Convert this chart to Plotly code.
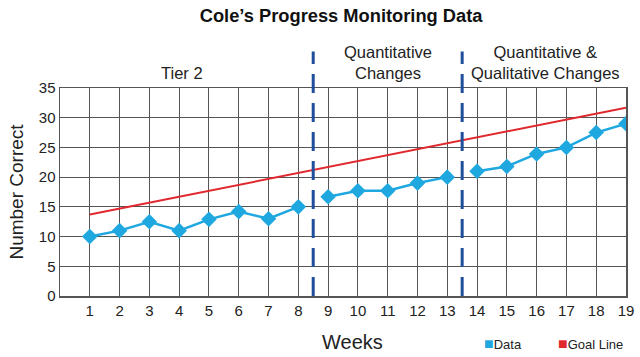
import plotly.graph_objects as go

weeks = list(range(1, 20))
data_values = [10, 11, 12.5, 11, 12.9, 14.2, 13, 15, 16.7, 17.7, 17.7, 19, 20, 21, 21.8, 23.9, 25, 27.5, 29]
goal_weeks = [1, 19]
goal_values = [13.7, 31.7]
phase_breaks = [8.5, 13.5]
phase_labels = ["Tier 2", "Quantitative<br>Changes", "Quantitative &<br>Qualitative Changes"]
phase_label_x = [4.1, 11.0, 16.3]
y_ticks = [0, 5, 10, 15, 20, 25, 30, 35]

BLUE = "#1fa8e0"
RED = "#e0282e"
DASH = "#1f4e9b"
GRID = "#555555"
FONT = "Liberation Sans, Arial, sans-serif"

fig = go.Figure()
fig.add_trace(go.Scatter(x=goal_weeks, y=goal_values, mode="lines",
                         line=dict(color=RED, width=2), showlegend=False))

# data line is broken at each phase change
bounds = [float("-inf")] + phase_breaks + [float("inf")]
for lo, hi in zip(bounds[:-1], bounds[1:]):
    seg = [(w, v) for w, v in zip(weeks, data_values) if lo < w < hi]
    fig.add_trace(go.Scatter(x=[s[0] for s in seg], y=[s[1] for s in seg], mode="lines+markers",
                             line=dict(color=BLUE, width=2.5),
                             marker=dict(symbol="diamond", size=12, color=BLUE),
                             showlegend=False))

for xb in phase_breaks:
    fig.add_shape(type="line", xref="x", yref="paper", x0=xb, x1=xb, y0=0, y1=1.175,
                  line=dict(color=DASH, width=3, dash="19px,10px"))

for lx, lt in zip(phase_label_x, phase_labels):
    fig.add_annotation(x=lx, xref="x", y=1.02, yref="paper", yanchor="bottom",
                       text=lt, showarrow=False, font=dict(size=16.5, color="#222", family=FONT))

fig.update_layout(
    width=640, height=357,
    margin=dict(l=60, r=14, t=88, b=61, autoexpand=False),
    paper_bgcolor="white", plot_bgcolor="white",
    font=dict(family=FONT, color="#222"),
    title=dict(text="<b>Cole’s Progress Monitoring Data</b>", x=0.533, xanchor="center",
               y=0.957, yanchor="middle", font=dict(size=18.3, color="#111", family=FONT)),
    xaxis=dict(range=[0, 19], tickvals=weeks, ticktext=[str(w) for w in weeks],
               showgrid=True, gridcolor=GRID, gridwidth=1,
               showline=True, linecolor=GRID, linewidth=1.5, mirror=True,
               ticks="", ticklen=0, tickfont=dict(size=15, color="#222"),
               ticklabeloverflow="allow",
               zeroline=False, fixedrange=True, automargin=False),
    yaxis=dict(range=[0, 35], tickvals=y_ticks,
               showgrid=True, gridcolor=GRID, gridwidth=1,
               showline=True, linecolor=GRID, linewidth=1.5, mirror=True,
               ticks="", tickfont=dict(size=15, color="#222"),
               zeroline=False, fixedrange=True, automargin=False,
               title=dict(text="Number Correct", font=dict(size=19, color="#222"), standoff=10)),
)

fig.add_annotation(x=0.516, xref="paper", y=-0.221, yref="paper", yanchor="middle",
                   text="Weeks", showarrow=False, font=dict(size=20, color="#222", family=FONT))
fig.add_annotation(x=0.745, xref="paper", y=-0.226, yref="paper", xanchor="left", yanchor="middle",
                   text=f"<span style='color:{BLUE};font-size:16px'>■</span>Data", showarrow=False,
                   font=dict(size=13, color="#222", family=FONT))
fig.add_annotation(x=0.998, xref="paper", y=-0.226, yref="paper", xanchor="right", yanchor="middle",
                   text=f"<span style='color:{RED};font-size:16px'>■</span>Goal Line", showarrow=False,
                   font=dict(size=13, color="#222", family=FONT))

# remove the browser's default 8px body margin so the 640x357 figure fills the window
fig.write_html("out.html", config={"displayModeBar": False, "staticPlot": True},
               post_script="document.body.style.margin='0';document.body.style.overflow='hidden';")
